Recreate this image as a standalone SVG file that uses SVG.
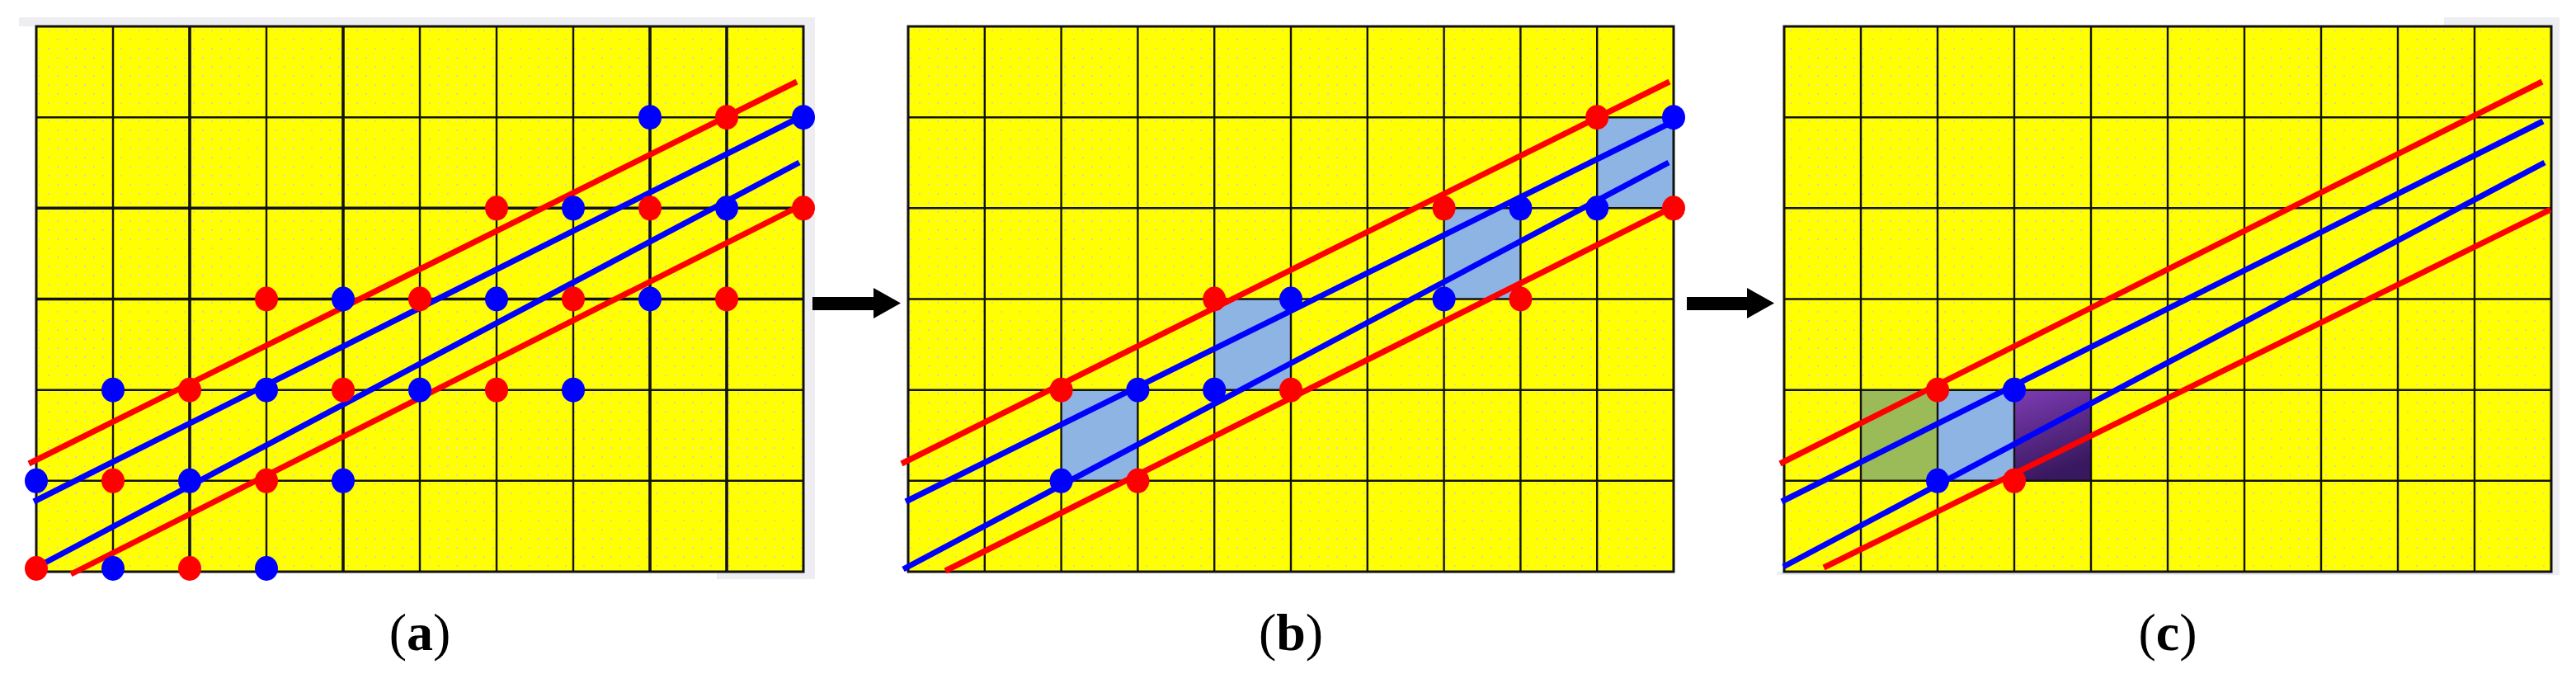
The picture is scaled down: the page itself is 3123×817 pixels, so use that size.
<svg xmlns="http://www.w3.org/2000/svg" width="3123" height="817" viewBox="0 0 3123 817">
<style>
.bg{fill:url(#tex)}
.g{stroke:#111;stroke-width:2.4;fill:none}
.gt{stroke:#111;stroke-width:3.6;fill:none}
.bd{stroke:#111;stroke-width:3;fill:none}
.rl{stroke:#ff0000;stroke-width:7;fill:none}
.bl{stroke:#0000ff;stroke-width:7;fill:none}
.rd{fill:#ff0000}
.bdt{fill:#0000ff}
.lb{fill:#8db4e2}
.sh{fill:#eeeef2}
.lab{font-family:"Liberation Serif","Times New Roman",serif;font-size:64px;fill:#000}
</style>
<defs>
<pattern id="tex" patternUnits="userSpaceOnUse" width="22" height="22">
<rect width="22" height="22" fill="#ffff00"/>
<rect x="3" y="3" width="2" height="2" fill="#cfd4d0"/>
<rect x="14" y="14" width="2" height="2" fill="#cfd4d0"/>
<rect x="14" y="3" width="2" height="2" fill="#e6e8a0"/>
<rect x="3" y="14" width="2" height="2" fill="#e6e8a0"/>
</pattern>
<linearGradient id="pur" x1="0" y1="0" x2="0.3" y2="1">
<stop offset="0" stop-color="#7e3cb4"/>
<stop offset="1" stop-color="#38185e"/>
</linearGradient>
</defs>
<rect width="3123" height="817" fill="#ffffff"/>

<g id="panel-a">
<rect class="sh" x="23" y="21" width="965" height="11"/>
<rect class="sh" x="974" y="21" width="14" height="681"/>
<rect class="sh" x="869" y="693" width="119" height="9"/>
<rect class="bg" x="44" y="32" width="930" height="661"/>
<path class="g" d="M137 32V693M323 32V693M602 32V693M695 32V693M509 32V693M44 142.2H974M44 472.7H974M44 582.8H974"/>
<path class="gt" d="M230 32V693M416 32V693M788 32V693M881 32V693M44 252.3H974M44 362.5H974"/>
<rect class="bd" x="44" y="32" width="930" height="661"/>
<path class="rl" d="M35 562L966 99M86 696L969 250"/>
<path class="bl" d="M41 608L970 142M51 684L969 197"/>
<g class="bdt">
<ellipse cx="788" cy="142.2" rx="14" ry="15"/><ellipse cx="974" cy="142.2" rx="14" ry="15"/>
<ellipse cx="695" cy="252.3" rx="14" ry="15"/><ellipse cx="881" cy="252.3" rx="14" ry="15"/>
<ellipse cx="416" cy="362.5" rx="14" ry="15"/><ellipse cx="602" cy="362.5" rx="14" ry="15"/><ellipse cx="788" cy="362.5" rx="14" ry="15"/>
<ellipse cx="137" cy="472.7" rx="14" ry="15"/><ellipse cx="323" cy="472.7" rx="14" ry="15"/><ellipse cx="509" cy="472.7" rx="14" ry="15"/><ellipse cx="695" cy="472.7" rx="14" ry="15"/>
<ellipse cx="44" cy="582.8" rx="14" ry="15"/><ellipse cx="230" cy="582.8" rx="14" ry="15"/><ellipse cx="416" cy="582.8" rx="14" ry="15"/>
<ellipse cx="137" cy="689" rx="14" ry="15"/><ellipse cx="323" cy="689" rx="14" ry="15"/>
</g>
<g class="rd">
<ellipse cx="881" cy="142.2" rx="14" ry="15"/>
<ellipse cx="602" cy="252.3" rx="14" ry="15"/><ellipse cx="788" cy="252.3" rx="14" ry="15"/><ellipse cx="974" cy="252.3" rx="14" ry="15"/>
<ellipse cx="323" cy="362.5" rx="14" ry="15"/><ellipse cx="509" cy="362.5" rx="14" ry="15"/><ellipse cx="695" cy="362.5" rx="14" ry="15"/><ellipse cx="881" cy="362.5" rx="14" ry="15"/>
<ellipse cx="230" cy="472.7" rx="14" ry="15"/><ellipse cx="416" cy="472.7" rx="14" ry="15"/><ellipse cx="602" cy="472.7" rx="14" ry="15"/>
<ellipse cx="137" cy="582.8" rx="14" ry="15"/><ellipse cx="323" cy="582.8" rx="14" ry="15"/>
<ellipse cx="44" cy="689" rx="14" ry="15"/><ellipse cx="230" cy="689" rx="14" ry="15"/>
</g>
<text class="lab" x="509" y="788" text-anchor="middle">(<tspan font-weight="bold">a</tspan>)</text>
</g>

<g id="panel-b">
<rect class="bg" x="1101" y="32" width="928" height="661"/>
<rect class="lb" x="1286.6" y="472.7" width="92.8" height="110.1"/>
<rect class="lb" x="1472.2" y="362.5" width="92.8" height="110.2"/>
<rect class="lb" x="1750.6" y="252.3" width="92.8" height="110.2"/>
<rect class="lb" x="1936.2" y="142.2" width="92.8" height="110.1"/>
<path class="g" d="M1193.8 32V693M1286.6 32V693M1379.4 32V693M1472.2 32V693M1565 32V693M1657.8 32V693M1750.6 32V693M1843.4 32V693M1936.2 32V693M1101 142.2H2029M1101 252.3H2029M1101 362.5H2029M1101 472.7H2029M1101 582.8H2029"/>
<rect class="bd" x="1101" y="32" width="928" height="661"/>
<path class="rl" d="M1093 562L2024 99M1146 692L2026 252"/>
<path class="bl" d="M1098 608L2027 148M1095 690L2023 197"/>
<g class="rd">
<ellipse cx="1286.6" cy="472.7" rx="14" ry="15"/><ellipse cx="1565" cy="472.7" rx="14" ry="15"/><ellipse cx="1379.4" cy="582.8" rx="14" ry="15"/>
<ellipse cx="1472.2" cy="362.5" rx="14" ry="15"/><ellipse cx="1750.6" cy="252.3" rx="14" ry="15"/><ellipse cx="1843.4" cy="362.5" rx="14" ry="15"/>
<ellipse cx="1936.2" cy="142.2" rx="14" ry="15"/><ellipse cx="2029" cy="252.3" rx="14" ry="15"/>
</g>
<g class="bdt">
<ellipse cx="1379.4" cy="472.7" rx="14" ry="15"/><ellipse cx="1472.2" cy="472.7" rx="14" ry="15"/><ellipse cx="1286.6" cy="582.8" rx="14" ry="15"/>
<ellipse cx="1565" cy="362.5" rx="14" ry="15"/><ellipse cx="1843.4" cy="252.3" rx="14" ry="15"/><ellipse cx="1750.6" cy="362.5" rx="14" ry="15"/>
<ellipse cx="2029" cy="142.2" rx="14" ry="15"/><ellipse cx="1936.2" cy="252.3" rx="14" ry="15"/>
</g>
<text class="lab" x="1565" y="788" text-anchor="middle">(<tspan font-weight="bold">b</tspan>)</text>
</g>

<g id="panel-c">
<rect class="sh" x="2963" y="21" width="140" height="11"/>
<rect class="sh" x="3093" y="21" width="10" height="676"/>
<rect class="sh" x="2154" y="693" width="949" height="4"/>
<rect class="bg" x="2163" y="32" width="930" height="661"/>
<rect x="2256" y="472.7" width="93" height="110.1" fill="#9bbb59"/>
<rect class="lb" x="2349" y="472.7" width="93" height="110.1"/>
<rect x="2442" y="472.7" width="93" height="110.1" fill="url(#pur)"/>
<path class="g" d="M2256 32V693M2349 32V693M2442 32V693M2535 32V693M2628 32V693M2721 32V693M2814 32V693M2907 32V693M3000 32V693M2163 142.2H3093M2163 252.3H3093M2163 362.5H3093M2163 472.7H3093M2163 582.8H3093"/>
<rect class="bd" x="2163" y="32" width="930" height="661"/>
<path class="rl" d="M2158 562L3082 99M2211 688L3092 254"/>
<path class="bl" d="M2160 608L3083 147M2162 687L3085 197"/>
<ellipse class="rd" cx="2349" cy="472.7" rx="14" ry="15"/>
<ellipse class="bdt" cx="2442" cy="472.7" rx="14" ry="15"/>
<ellipse class="bdt" cx="2349" cy="582.8" rx="14" ry="15"/>
<ellipse class="rd" cx="2442" cy="582.8" rx="14" ry="15"/>
<text class="lab" x="2628" y="788" text-anchor="middle">(<tspan font-weight="bold">c</tspan>)</text>
</g>

<g id="connectors" fill="#000">
<polygon points="985,360 1059,360 1059,349 1092,367.5 1059,386 1059,376 985,376"/>
<polygon points="2045,360 2118,360 2118,349 2151,367.5 2118,386 2118,376 2045,376"/>
</g>
</svg>
